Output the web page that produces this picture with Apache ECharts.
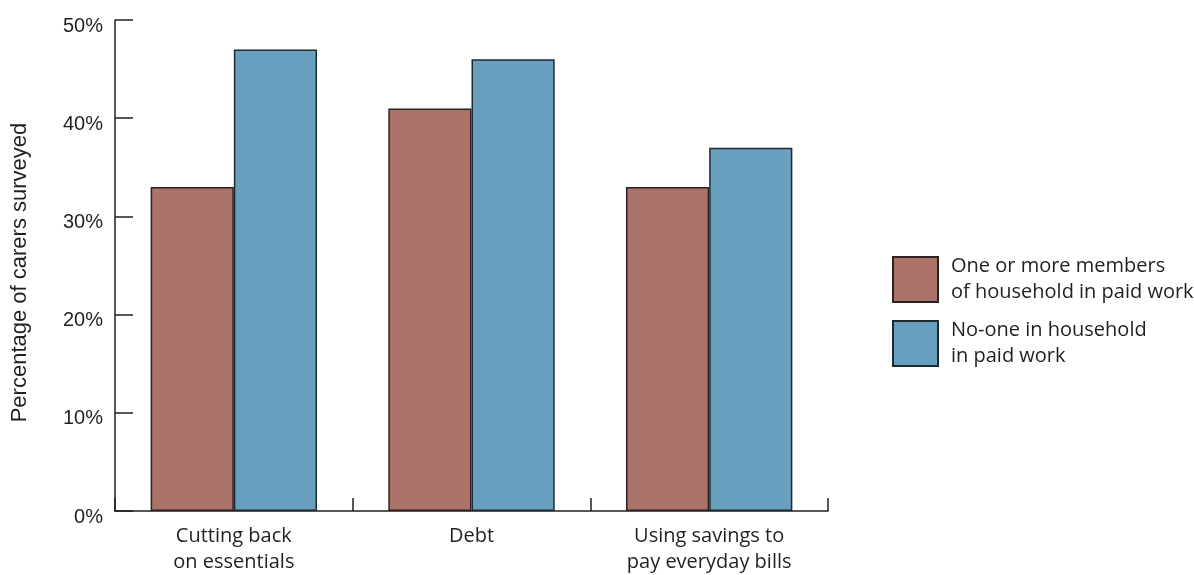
<!DOCTYPE html>
<html><head><meta charset="utf-8">
<script src="https://cdn.jsdelivr.net/npm/echarts@6/dist/echarts.min.js"></script>
<style>html,body{margin:0;padding:0;background:#fff}#c{width:1194px;height:575px}</style>
</head><body><div id="c"></div>
<script>
const categories = ['Cutting back\non essentials', 'Debt', 'Using savings to\npay everyday bills'];
const seriesNames = ['One or more members\nof household in paid work', 'No-one in household\nin paid work'];
const paidWork = [33, 41, 33];
const noPaidWork = [47, 46, 37];
const yTicks = [0, 10, 20, 30, 40, 50];

const chart = echarts.init(document.getElementById('c'), null, {renderer: 'canvas'});
const txt = '#231f20';
chart.setOption({
  animation: false,
  grid: {left: 115, right: 366, top: 20, bottom: 60, containLabel: false},
  legend: {
    orient: 'vertical', left: 887, top: 248.5, itemWidth: 45, itemHeight: 45, itemGap: 12,
    icon: 'rect',
    textStyle: {color: txt, fontSize: 20, fontFamily: 'Open Sans', lineHeight: 26, padding: [0, 0, 0, 8]},
    data: seriesNames
  },
  xAxis: {
    type: 'category', data: categories,
    axisLine: {lineStyle: {color: txt, width: 1.5}},
    axisTick: {show: true, inside: true, length: 13, lineStyle: {color: txt, width: 1.5}},
    axisLabel: {color: txt, fontSize: 20, fontFamily: 'Open Sans', lineHeight: 26, margin: 12}
  },
  yAxis: {
    type: 'value', min: 0, max: 50, interval: 10,
    name: 'Percentage of carers surveyed', nameLocation: 'middle', nameGap: 84,
    nameTextStyle: {color: txt, fontSize: 22, fontFamily: 'Liberation Sans', padding: [0, 14, 0, 0]},
    axisLine: {show: true, lineStyle: {color: txt, width: 1.5}},
    axisTick: {show: true, inside: true, length: 18, lineStyle: {color: txt, width: 1.5}},
    splitLine: {show: false},
    axisLabel: {color: txt, margin: 12,
      formatter: v => yTicks.includes(v) ? '{a|' + v + '%}' : '',
      rich: {a: {fontSize: 20, fontFamily: 'Liberation Sans', color: txt, padding: [12, 0, 0, 0]}}}
  },
  series: [
    {name: seriesNames[0], type: 'bar', data: paidWork, barWidth: '35%', barGap: '0%',
     itemStyle: {color: '#ab726a', borderColor: '#2a2223', borderWidth: 1.5}},
    {name: seriesNames[1], type: 'bar', data: noPaidWork, barWidth: '35%', barGap: '0%',
     itemStyle: {color: '#69a0c0', borderColor: '#1f2a30', borderWidth: 1.5}}
  ]
});
</script></body></html>
